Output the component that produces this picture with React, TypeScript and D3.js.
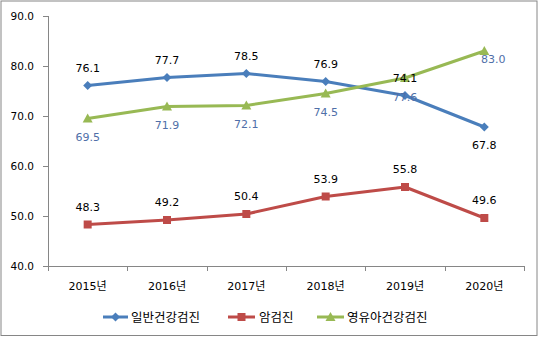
import React from 'react';
import * as d3 from 'd3';

const years = ['2015년', '2016년', '2017년', '2018년', '2019년', '2020년'];
const general = [76.1, 77.7, 78.5, 76.9, 74.1, 67.8];
const cancer = [48.3, 49.2, 50.4, 53.9, 55.8, 49.6];
const infant = [69.5, 71.9, 72.1, 74.5, 77.6, 83.0];
const yTicks = [40, 50, 60, 70, 80, 90];
const seriesNames = ['일반건강검진', '암검진', '영유아건강검진'];

const W = 539;
const H = 341;
const FONT = "'DejaVu Sans', 'Noto Sans CJK KR', sans-serif";
const KFONT = "'Noto Sans CJK KR', 'DejaVu Sans', sans-serif";

const BLUE = '#4A7EBB';
const RED = '#BE4B48';
const GREEN = '#98B954';
const LABEL_BLUE = '#4F6FA8';

function Marker({ type, x, y, color }: { type: string; x: number; y: number; color: string }) {
  if (type === 'diamond') {
    const s = 4.5;
    return <path d={`M${x},${y - s}L${x + s},${y}L${x},${y + s}L${x - s},${y}Z`} fill={color} />;
  }
  if (type === 'square') {
    const s = 4;
    return <rect x={x - s} y={y - s} width={2 * s} height={2 * s} fill={color} />;
  }
  const s = 5;
  return <path d={`M${x},${y - s}L${x + s},${y + s * 0.8}L${x - s},${y + s * 0.8}Z`} fill={color} />;
}

export default function App() {
  const x = d3.scaleBand<string>().domain(years).range([48, 524]);
  const y = d3.scaleLinear().domain([40, 90]).range([266, 16]);
  const cx = (i: number) => (x(years[i]) as number) + x.bandwidth() / 2;
  const line = d3
    .line<number>()
    .x((_, i) => cx(i))
    .y((v) => y(v));

  const series = [
    { name: seriesNames[0], data: general, color: BLUE, marker: 'diamond' },
    { name: seriesNames[1], data: cancer, color: RED, marker: 'square' },
    { name: seriesNames[2], data: infant, color: GREEN, marker: 'triangle' },
  ];

  const labelPos = (si: number, i: number): [number, number, string] => {
    if (si === 0) return i === 5 ? [0, 18, '#000'] : [0, -18, '#000'];
    if (si === 1) return [0, -18, '#000'];
    return i === 5 ? [9, 8, LABEL_BLUE] : [0, 18.5, LABEL_BLUE];
  };

  const boundaries = [...years.map((yr) => x(yr) as number), 524];
  const legend = [
    { x1: 103, x2: 128, tx: 131 },
    { x1: 228, x2: 255, tx: 259 },
    { x1: 317, x2: 344, tx: 347 },
  ];

  return (
    <svg
      width={W}
      height={H}
      style={{ position: 'fixed', left: 0, top: 0, background: '#fff' }}
    >
      <rect x={0} y={0} width={W} height={H} fill="#fff" />
      <rect x={1} y={1} width={536} height={334.5} fill="#fff" stroke="#868686" strokeWidth={1} />

      <line x1={48.5} x2={48.5} y1={16} y2={266} stroke="#868686" />
      {yTicks.map((t) => (
        <g key={t}>
          <line x1={43} x2={48.5} y1={Math.round(y(t)) + 0.5} y2={Math.round(y(t)) + 0.5} stroke="#868686" />
          <text
            x={34}
            y={y(t) + 4}
            textAnchor="end"
            fontFamily={FONT}
            fontSize={10.5}
            fill="#000"
          >
            {t.toFixed(1)}
          </text>
        </g>
      ))}

      <line x1={48} x2={524} y1={266.5} y2={266.5} stroke="#868686" />
      {boundaries.map((b, i) => (
        <line key={i} x1={Math.round(b) + 0.5} x2={Math.round(b) + 0.5} y1={266} y2={271} stroke="#868686" />
      ))}
      {years.map((yr, i) => (
        <text
          key={yr}
          x={cx(i)}
          y={290}
          textAnchor="middle"
          fontFamily={FONT}
          fontSize={11}
          fill="#000"
        >
          {yr}
        </text>
      ))}

      {series.map((s) => (
        <g key={s.name}>
          <path d={line(s.data) as string} fill="none" stroke={s.color} strokeWidth={3} strokeLinejoin="round" />
          {s.data.map((v, i) => (
            <Marker key={i} type={s.marker} x={cx(i)} y={y(v)} color={s.color} />
          ))}
        </g>
      ))}

      {series.map((s, si) =>
        s.data.map((v, i) => {
          const [dx, dy, col] = labelPos(si, i);
          return (
            <text
              key={`${si}-${i}`}
              x={cx(i) + dx}
              y={y(v) + dy + 4}
              textAnchor="middle"
              fontFamily={FONT}
              fontSize={11}
              fill={col}
            >
              {v.toFixed(1)}
            </text>
          );
        })
      )}

      {series.map((s, si) => {
        const L = legend[si];
        const ly = 317;
        return (
          <g key={s.name}>
            <line x1={L.x1} x2={L.x2} y1={ly} y2={ly} stroke={s.color} strokeWidth={3} />
            <Marker type={s.marker} x={(L.x1 + L.x2) / 2} y={ly} color={s.color} />
            <text x={L.tx} y={ly + 4.5} fontFamily={KFONT} fontSize={12.5} fill="#000">
              {s.name}
            </text>
          </g>
        );
      })}
    </svg>
  );
}
